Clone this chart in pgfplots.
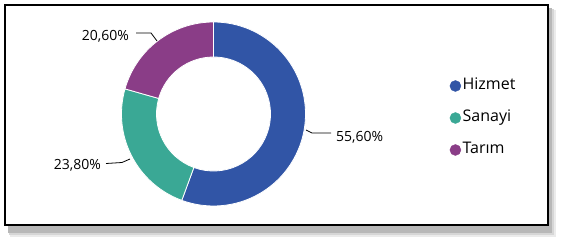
\documentclass[border=0pt]{standalone}
\usepackage{pgfplots}
\pgfplotsset{compat=1.18}
\usepackage{pgfplotstable}
\usepackage{fontspec}
\setmainfont{Open Sans}
\definecolor{cHiz}{RGB}{49,85,166}
\definecolor{cSan}{RGB}{58,168,149}
\definecolor{cTar}{RGB}{138,61,135}

\pgfplotstableread[col sep=comma]{
name,value
Hizmet,55.6
Sanayi,23.8
Tarım,20.6
}\sectors
\pgfplotstablegetelem{0}{value}\of\sectors \let\vA\pgfplotsretval
\pgfplotstablegetelem{1}{value}\of\sectors \let\vB\pgfplotsretval
\pgfplotstablegetelem{2}{value}\of\sectors \let\vC\pgfplotsretval
\pgfmathsetmacro{\aA}{90}
\pgfmathsetmacro{\aB}{\aA-3.6*\vA}
\pgfmathsetmacro{\aC}{\aB-3.6*\vB}
\pgfmathsetmacro{\aD}{\aC-3.6*\vC}
\def\cx{213.5}\def\cy{126}
\def\Ro{92}\def\Ri{57}

\begin{document}%
\begin{tikzpicture}[font=\fontsize{14}{17}\selectfont]
\begin{axis}[x=1pt,y=1pt,xmin=0,xmax=562,ymin=0,ymax=240,
  hide axis, clip=false, anchor=origin,
  legend style={draw=none, fill=none, inner sep=0pt, at={(axis cs:449.5,122)}, anchor=west,
    font=\fontsize{16}{19}\selectfont,
    row sep=16pt, column sep=1.5pt,
    nodes={inner sep=0pt, text height=12pt, text depth=4pt, anchor=base west}},
  legend cell align=left]
% shadow
\fill[black!8]  (axis cs:10,3) rectangle (axis cs:556,230);
\fill[black!16] (axis cs:9,5) rectangle (axis cs:554,231);
\fill[black!28] (axis cs:8,7) rectangle (axis cs:552,232);
% box
\filldraw[fill=white, draw=black, line width=2.6pt] (axis cs:5,15) rectangle (axis cs:548,235);
% slices
\fill[cHiz, draw=white, line width=0.8pt] (axis cs:\cx,\cy) ++(\aA:\Ro pt) arc[start angle=\aA, end angle=\aB, radius=\Ro pt]
  -- ([shift={(\aB:\Ri pt)}]axis cs:\cx,\cy) arc[start angle=\aB, end angle=\aA, radius=\Ri pt] -- cycle;
\fill[cSan, draw=white, line width=0.8pt] (axis cs:\cx,\cy) ++(\aB:\Ro pt) arc[start angle=\aB, end angle=\aC, radius=\Ro pt]
  -- ([shift={(\aC:\Ri pt)}]axis cs:\cx,\cy) arc[start angle=\aC, end angle=\aB, radius=\Ri pt] -- cycle;
\fill[cTar, draw=white, line width=0.8pt] (axis cs:\cx,\cy) ++(\aC:\Ro pt) arc[start angle=\aC, end angle=\aD, radius=\Ro pt]
  -- ([shift={(\aD:\Ri pt)}]axis cs:\cx,\cy) arc[start angle=\aD, end angle=\aC, radius=\Ri pt] -- cycle;
% leader lines
\draw[line width=0.8pt] (axis cs:306,110) -- (axis cs:312,107) -- (axis cs:331,107);
\draw[line width=0.8pt] (axis cs:106,76.5) -- (axis cs:122,77.5) -- (axis cs:130,81);
\draw[line width=0.8pt] (axis cs:136,207) -- (axis cs:151,207) -- (axis cs:157,199);
% data labels
\node[anchor=base west, inner sep=0pt] at (axis cs:336,98) {55,60\%};
\node[anchor=base east, inner sep=0pt] at (axis cs:101,70.5) {23,80\%};
\node[anchor=base east, inner sep=0pt] at (axis cs:129,199) {20,60\%};
% legend
\addlegendimage{legend image code/.code={\fill[cHiz] (0pt,4pt) circle (5.5pt);}}
\addlegendentry{Hizmet}
\addlegendimage{legend image code/.code={\fill[cSan] (0pt,4pt) circle (5.5pt);}}
\addlegendentry{Sanayi}
\addlegendimage{legend image code/.code={\fill[cTar] (0pt,4pt) circle (5.5pt);}}
\addlegendentry{Tarım}
\coordinate (BL) at (axis cs:0,0);
\coordinate (TR) at (axis cs:562,240);
\end{axis}
\pgfresetboundingbox
\path (BL) rectangle (TR);
\end{tikzpicture}%
\end{document}
